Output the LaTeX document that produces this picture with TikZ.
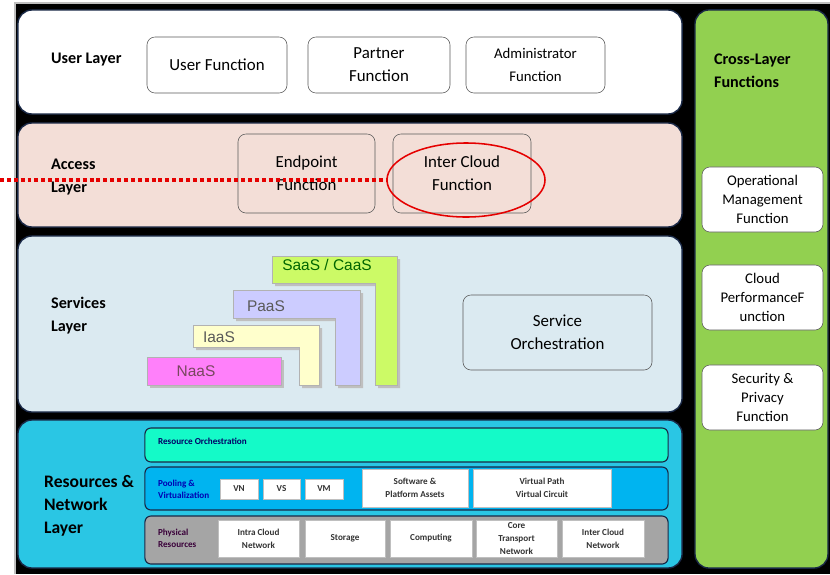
\documentclass[tikz,border=0pt]{standalone}
\usepackage{fontspec}
\setmainfont{Carlito}
\newfontfamily\arialfont{Liberation Sans}
\usetikzlibrary{shapes.geometric}
\definecolor{edge}{RGB}{25,40,70}
\definecolor{accessbg}{RGB}{243,222,215}
\definecolor{servbg}{RGB}{219,234,241}
\definecolor{resbg}{RGB}{42,198,228}
\definecolor{crossbg}{RGB}{146,208,80}
\definecolor{saas}{RGB}{204,250,102}
\definecolor{paas}{RGB}{204,204,255}
\definecolor{iaas}{RGB}{255,255,204}
\definecolor{naas}{RGB}{255,128,250}
\definecolor{orch}{RGB}{20,250,200}
\definecolor{pool}{RGB}{0,180,240}
\definecolor{phys}{RGB}{165,165,165}
\begin{document}
\begin{tikzpicture}[x=0.025cm, y=-0.025cm, semithick,
    layer/.style = {draw=edge, line width=1pt, rounded corners=0.35cm, inner sep=0pt},
    title/.style = {anchor=west, align=left, font=\bfseries\fontsize{11.5}{16.3}\selectfont},
    main/.style = {draw=gray!70!black, thin, fill=white, rounded corners=0.2cm, align=center, font=\fontsize{12}{16.3}\selectfont},
    side/.style = {main, minimum width=3.025cm, minimum height=1.625cm, font=\fontsize{10.5}{13.5}\selectfont},
    aas/.style = {font=\arialfont\fontsize{11}{13}\selectfont, text=black!65},
    lshape/.style = {draw=gray!60, thin},
    bar/.style = {draw=edge, line width=0.8pt, rounded corners=0.15cm, inner sep=0pt, minimum width=13.075cm},
    tag/.style = {anchor=west, align=left, font=\bfseries\fontsize{6.5}{8.5}\selectfont},
    res/.style = {fill=white, draw=gray!50, thin, align=center, inner sep=0pt, font=\bfseries\fontsize{6.5}{9}\selectfont, text=black!80}]
    \useasboundingbox (0,0) rectangle (830,574);
    \fill[black] (15,4) rectangle (830,574);
    \draw[gray!50, line width=1pt] (830,3) -- (15,3) -- (15,574);

    % layers
    \node[layer, fill=white, minimum width=16.6cm, minimum height=2.6cm] (u) at (350,62) {};
    \node[layer, fill=accessbg, minimum width=16.6cm, minimum height=2.6cm] (a) at (350,175) {};
    \node[layer, fill=servbg, minimum width=16.6cm, minimum height=4.4cm] (s) at (350,324) {};
    \node[layer, fill=resbg, minimum width=16.6cm, minimum height=3.7cm] (r) at (350,494) {};
    \node[layer, fill=crossbg, minimum width=3.325cm, minimum height=13.95cm] (c) at (761.5,289) {};

    \node[title] (u0) at (46,60) {User Layer};
    \node[title] (a0) at (46,177) {Access\\Layer};
    \node[title] (s0) at (46,316) {Services\\Layer};
    \node[title, font=\bfseries\fontsize{12.5}{16.3}\selectfont] (r0) at (39,506) {Resources \&\\Network\\Layer};
    \node[title] (c0) at (709,71) {Cross-Layer\\Functions};

    % user layer
    \node[main, minimum width=3.5cm, minimum height=1.4cm] (1) at (217,65) {User Function};
    \node[main, minimum width=3.55cm, minimum height=1.4cm] (2) at (379,65) {Partner\\Function};
    \node[main, minimum width=3.475cm, minimum height=1.4cm, font=\fontsize{10.5}{16.3}\selectfont] (3) at (535.5,65) {Administrator\\Function};

    % access layer
    \node[main, fill=accessbg, minimum width=3.425cm, minimum height=1.975cm] (4) at (306.5,173.5) {Endpoint\\Function};
    \node[main, fill=accessbg, minimum width=3.45cm, minimum height=1.975cm] (5) at (462,173.5) {Inter Cloud\\Function};
    \node[ellipse, draw=red!90!black, line width=1.1pt, minimum width=3.95cm, minimum height=1.85cm] (6) at (466,180) {};
    \coordinate (0) at (0,180);
    \draw[red!90!black, line width=2.8pt, dash pattern=on 2.8pt off 2.1pt] (0) -- (6.west);

    % services layer
    \fill[black!25] (275,259) -- (400,259) -- (400,388) -- (378,388) -- (378,286) -- (275,286) -- cycle;
    \filldraw[lshape, fill=saas] (272,256) -- (397,256) -- (397,385) -- (375,385) -- (375,283) -- (272,283) -- cycle;
    \fill[black!25] (236,293) -- (363,293) -- (363,388) -- (338,388) -- (338,321) -- (236,321) -- cycle;
    \filldraw[lshape, fill=paas] (233,290) -- (360,290) -- (360,385) -- (335,385) -- (335,318) -- (233,318) -- cycle;
    \fill[black!25] (196,328) -- (322,328) -- (322,388) -- (302,388) -- (302,350) -- (196,350) -- cycle;
    \filldraw[lshape, fill=iaas] (193,325) -- (319,325) -- (319,385) -- (299,385) -- (299,347) -- (193,347) -- cycle;
    \fill[black!25] (150,360) rectangle (284,388);
    \filldraw[lshape, fill=naas] (147,357) rectangle (281,385);
    \node[aas, text=black!60!green] (7) at (327,265) {SaaS / CaaS};
    \node[aas] (8) at (266,306) {PaaS};
    \node[aas] (9) at (219,337) {IaaS};
    \node[aas, text=black!60!magenta] (10) at (196,371) {NaaS};
    \node[main, fill=servbg, minimum width=4.725cm, minimum height=1.875cm] (11) at (557.5,332.5) {Service\\Orchestration};

    % cross-layer functions
    \node[side] (12) at (762.5,199.5) {Operational\\Management\\Function};
    \node[side] (13) at (762.5,297.5) {Cloud\\PerformanceF\\unction};
    \node[side] (14) at (762.5,397.5) {Security \&\\Privacy\\Function};

    % resources and network layer
    \node[bar, fill=orch, minimum height=0.85cm] (15) at (406.5,445) {};
    \node[bar, fill=pool, minimum height=1.075cm] (16) at (406.5,488.5) {};
    \node[bar, fill=phys, minimum height=1.2cm] (17) at (406.5,540) {};
    \node[tag, text=black!60!blue] (15a) at (153,441) {Resource Orchestration};
    \node[tag, text=blue!70!black] (16a) at (153,489) {Pooling \&\\Virtualization};
    \node[tag, text=black!55!violet] (17a) at (153,538) {Physical\\Resources};

    \node[res, minimum width=0.95cm, minimum height=0.5cm] (18) at (239,489) {VN};
    \node[res, minimum width=0.925cm, minimum height=0.5cm] (19) at (281.5,489) {VS};
    \node[res, minimum width=0.95cm, minimum height=0.5cm] (20) at (324,489) {VM};
    \node[res, minimum width=2.65cm, minimum height=0.95cm] (21) at (415,488) {Software \&\\Platform Assets};
    \node[res, minimum width=3.45cm, minimum height=0.95cm] (22) at (542,488) {Virtual Path\\Virtual Circuit};

    \node[res, minimum width=2.025cm, minimum height=0.925cm] (23) at (258.5,538.5) {Intra Cloud\\Network};
    \node[res, minimum width=2cm, minimum height=0.925cm] (24) at (345,538.5) {Storage};
    \node[res, minimum width=2.05cm, minimum height=0.925cm] (25) at (431,538.5) {Computing};
    \node[res, minimum width=2.025cm, minimum height=0.925cm] (26) at (516.5,538.5) {Core\\Transport\\Network};
    \node[res, minimum width=2.05cm, minimum height=0.925cm] (27) at (603,538.5) {Inter Cloud\\Network};
\end{tikzpicture}
\end{document}
